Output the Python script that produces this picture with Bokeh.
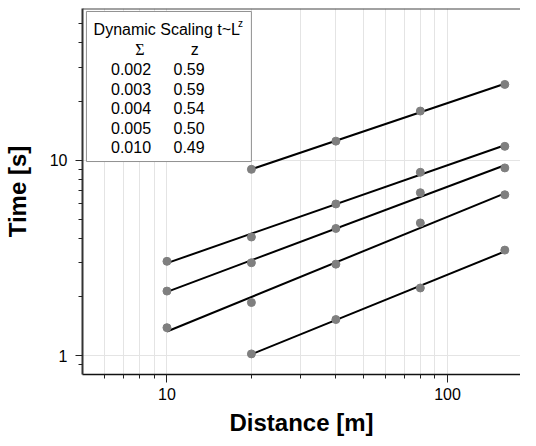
import numpy as np
from bokeh.plotting import figure
from bokeh.models import (Range1d, FixedTicker, BasicTickFormatter, Label,
                          BoxAnnotation, Span)
from bokeh.embed import file_html
from bokeh.resources import INLINE

# ---------------- data ----------------
S1_X = [20, 40, 80, 160]
S1_T = [9.0, 12.55, 17.9, 24.5]
S2_X = [10, 20, 40, 80, 160]
S2_T = [3.04, 4.05, 5.98, 8.69, 11.8]
S3_X = [10, 20, 40, 80, 160]
S3_T = [2.14, 2.99, 4.48, 6.83, 9.15]
S4_X = [10, 20, 40, 80, 160]
S4_T = [1.39, 1.87, 2.94, 4.78, 6.67]
S5_X = [20, 40, 80, 160]
S5_T = [1.02, 1.53, 2.22, 3.47]

LEG_TITLE = "Dynamic Scaling t~L"
LEG_SUP = "z"
LEG_HEAD = ["\u03a3", "z"]
SIGMA = ["0.002", "0.003", "0.004", "0.005", "0.010"]
ZVAL = ["0.59", "0.59", "0.54", "0.50", "0.49"]

X_MAJOR = [10, 100]
X_MINOR = [6, 7, 8, 9, 20, 30, 40, 50, 60, 70, 80, 90]
Y_MAJOR = [1, 10]
Y_MINOR = [0.9, 2, 3, 4, 5, 6, 7, 8, 9, 20, 30, 40, 50]

X_RANGE = (5, 182)
Y_RANGE = (0.8, 60)

# ---------------- layout ----------------
W, H = 520, 438
BL, BR, BT, BB = 75, 0, 8, 61
FRAME_W = W - BL - BR
FRAME_H = H - BT - BB
FONT = "Liberation Sans"

lx0, lx1 = np.log10(X_RANGE)
ly0, ly1 = np.log10(Y_RANGE)


def px_x(dx):
    return 10 ** (lx0 + dx / FRAME_W * (lx1 - lx0))


def px_y(dy):
    return 10 ** (ly1 - dy / FRAME_H * (ly1 - ly0))


p = figure(width=W, height=H, x_axis_type="log", y_axis_type="log",
           x_range=Range1d(*X_RANGE), y_range=Range1d(*Y_RANGE),
           output_backend="svg", toolbar_location=None,
           min_border_left=BL, min_border_right=BR,
           min_border_top=BT, min_border_bottom=BB)
p.outline_line_color = None
p.background_fill_color = "white"
p.border_fill_color = "white"

# axes
p.xaxis.ticker = FixedTicker(ticks=X_MAJOR, minor_ticks=X_MINOR)
p.yaxis.ticker = FixedTicker(ticks=Y_MAJOR, minor_ticks=Y_MINOR)
p.xaxis.formatter = BasicTickFormatter()
p.yaxis.formatter = BasicTickFormatter()
for ax in (p.xaxis, p.yaxis):
    ax.major_label_text_font = FONT
    ax.major_label_text_font_size = "16px"
    ax.major_label_text_color = "black"
    ax.axis_label_text_font = FONT
    ax.axis_label_text_font_style = "bold"
    ax.axis_label_text_font_size = "24px"
    ax.axis_label_text_color = "black"
    ax.major_tick_in = 0
    ax.minor_tick_in = 0
    ax.minor_tick_out = 4
    ax.major_tick_line_color = "#222222"
    ax.minor_tick_line_color = "#222222"
p.xaxis.axis_label = "Distance [m]"
p.yaxis.axis_label = "Time [s]"
p.xaxis.major_tick_out = 8
p.yaxis.major_tick_out = 7
p.xaxis.major_label_standoff = 5
p.yaxis.major_label_standoff = 8
p.xaxis.axis_label_standoff = 6
p.yaxis.axis_label_standoff = 16
p.xaxis.axis_line_color = "#111111"
p.xaxis.axis_line_width = 1.5
p.yaxis.axis_line_color = "#333333"
p.yaxis.axis_line_width = 2

# grid
p.xgrid.grid_line_color = "#e4e4e4"
p.xgrid.minor_grid_line_color = "#e4e4e4"
p.ygrid.grid_line_color = "#e4e4e4"
p.ygrid.minor_grid_line_color = None

# top border
p.add_layout(Span(location=Y_RANGE[1], dimension="width",
                  line_color="#444444", line_width=2))

# series
for xs, ts in [(S1_X, S1_T), (S2_X, S2_T), (S3_X, S3_T), (S4_X, S4_T), (S5_X, S5_T)]:
    lx = np.log10(xs)
    lt = np.log10(ts)
    k, b = np.polyfit(lx, lt, 1)
    xe = np.array([min(xs), max(xs)])
    te = 10 ** (b + k * np.log10(xe))
    p.line(xe, te, line_color="black", line_width=2)
    p.scatter(xs, ts, size=8, fill_color="#7f7f7f", line_color="#7f7f7f")

# legend box
p.add_layout(BoxAnnotation(left=px_x(4), right=px_x(171.6),
                           top=px_y(3), bottom=px_y(154.3),
                           fill_color="white", fill_alpha=1,
                           line_color="#909090", line_width=1, line_alpha=1,
                           level="overlay"))


def lab(x, y, t, size="16px", align="center", font=FONT):
    p.add_layout(Label(x=x, y=y, text=t, text_font=font, text_font_size=size,
                       text_align=align, text_baseline="middle",
                       text_color="black", level="overlay"))


lab(px_x(11.3), px_y(21.3), LEG_TITLE, align="left")
lab(px_x(158), px_y(15.5), LEG_SUP, size="10px", align="left")
lab(px_x(58.3), px_y(41.7), LEG_HEAD[0], font="Liberation Serif")
lab(px_x(114), px_y(41.7), LEG_HEAD[1])
for i, (s, z) in enumerate(zip(SIGMA, ZVAL)):
    yy = px_y(61.3 + i * 19.6)
    lab(px_x(49.3), yy, s)
    lab(px_x(108.3), yy, z)

open("out.html", "w").write(file_html(p, INLINE))
